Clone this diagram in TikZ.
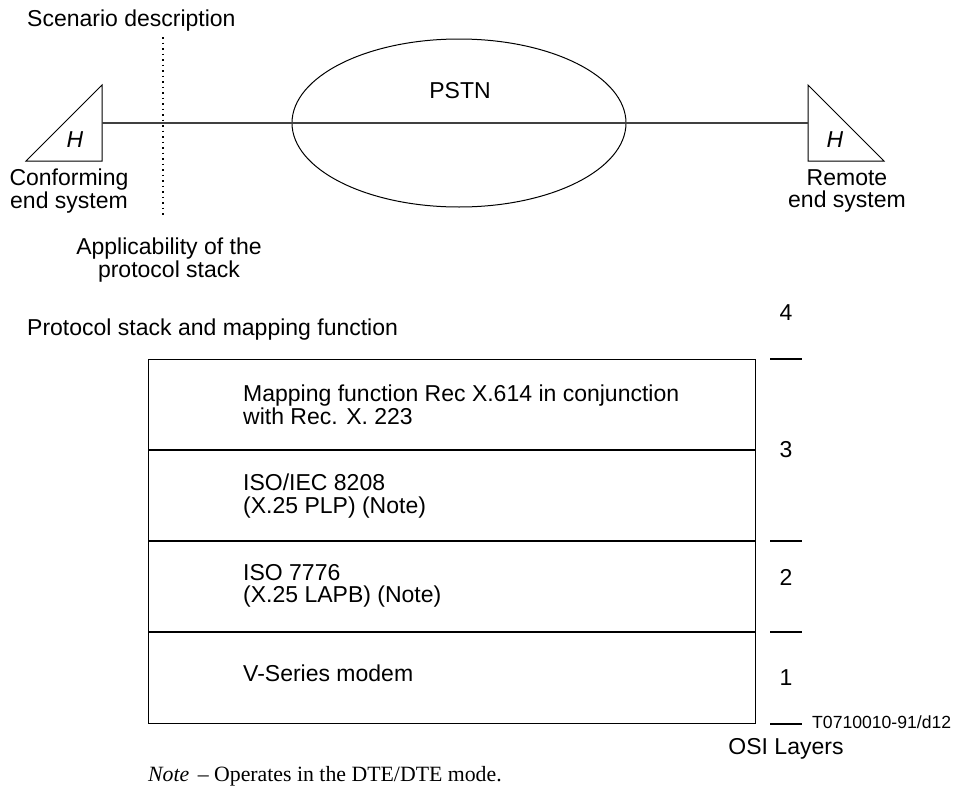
\documentclass[tikz,border=0pt]{standalone}
\usepackage{fontspec}
\setmainfont{Liberation Sans}
\newfontfamily\serifnote{Liberation Serif}
\usetikzlibrary{shapes.geometric}
\tikzset{
  lbl/.style={inner sep=0pt,font=\fontsize{23}{22.5}\selectfont,align=left,anchor=west},
  clbl/.style={inner sep=0pt,font=\fontsize{23}{22.5}\selectfont,align=center,anchor=center},
  ln/.style={line width=1pt,black},
  hln/.style={line width=1.5pt,black},
  midln/.style={line width=1.4pt,black!75},
}
\begin{document}
\begin{tikzpicture}[x=1pt,y=1pt]
\useasboundingbox (0,0) rectangle (955,-787);
\node[lbl] (scen) at (27,-21) {Scenario description};
\coordinate (dtop) at (163,-37);
\coordinate (dbot) at (163,-215);
\draw[line width=1.6pt,dash pattern=on 1.6pt off 3.9pt] (dtop) -- (dbot);
\node[draw,ln,ellipse,minimum width=334pt,minimum height=168pt,inner sep=0pt] (pstn) at (459,-123) {};
\node[clbl] (pstnl) at (460,-91) {PSTN};
\coordinate (ltop) at (102,-85);
\coordinate (lbot) at (102,-161);
\coordinate (lleft) at (26,-161);
\coordinate (rtop) at (808,-85);
\coordinate (rbot) at (808,-161);
\coordinate (rright) at (884,-161);
\draw[ln] (ltop) -- (lbot) -- (lleft) -- cycle;
\draw[ln] (rtop) -- (rbot) -- (rright) -- cycle;
\draw[midln] (ltop |- pstn.center) -- (pstn.west);
\draw[midln] (pstn.west) -- (pstn.east);
\draw[midln] (pstn.east) -- (rtop |- pstn.center);
\node[clbl,font=\fontsize{23}{22.5}\selectfont\itshape] (hl) at (75,-140) {H};
\node[clbl,font=\fontsize{23}{22.5}\selectfont\itshape] (hr) at (835,-140) {H};
\node[clbl] (ces) at (69,-191) {Conforming\\end system};
\node[clbl] (res) at (847,-191) {Remote\\end system};
\node[clbl] (app) at (169,-260) {Applicability of the\\protocol stack};
\node[lbl] (psm) at (27,-330) {Protocol stack and mapping function};
\draw[ln] (148,-359) rectangle (755,-723);
\coordinate (a1) at (148,-450); \coordinate (a2) at (755,-450);
\coordinate (b1) at (148,-541); \coordinate (b2) at (755,-541);
\coordinate (c1) at (148,-632); \coordinate (c2) at (755,-632);
\draw[hln] (a1) -- (a2);
\draw[hln] (b1) -- (b2);
\draw[hln] (c1) -- (c2);
\node[lbl] (t1) at (243,-405) {Mapping function Rec X.614 in conjunction\\with Rec. X. 223};
\node[lbl] (t2) at (243,-496) {ISO/IEC 8208\\(X.25 PLP) (Note)};
\node[lbl] (t3) at (243,-586) {ISO 7776\\(X.25 LAPB) (Note)};
\node[lbl] (t4) at (243,-673) {V-Series modem};
\foreach \n/\y in {t0/359,tb/541,tc/632,td/724}{
  \coordinate (\n1) at (770,-\y); \coordinate (\n2) at (802,-\y);
  \draw[hln] (\n1) -- (\n2);
}
\node[clbl] (n4) at (786,-313) {4};
\node[clbl] (n3) at (786,-450) {3};
\node[clbl] (n2) at (786,-577) {2};
\node[clbl] (n1) at (786,-678) {1};
\node[lbl,font=\fontsize{17.6}{18}\selectfont] (code) at (812,-722) {T0710010-91/d12};
\node[clbl] (osi) at (786,-749) {OSI Layers};
\node[lbl,font=\fontsize{21.8}{18}\selectfont\serifnote] (note) at (148,-776) {\textit{Note}\hspace{3pt} – Operates in the DTE/DTE mode.};
\end{tikzpicture}
\end{document}
